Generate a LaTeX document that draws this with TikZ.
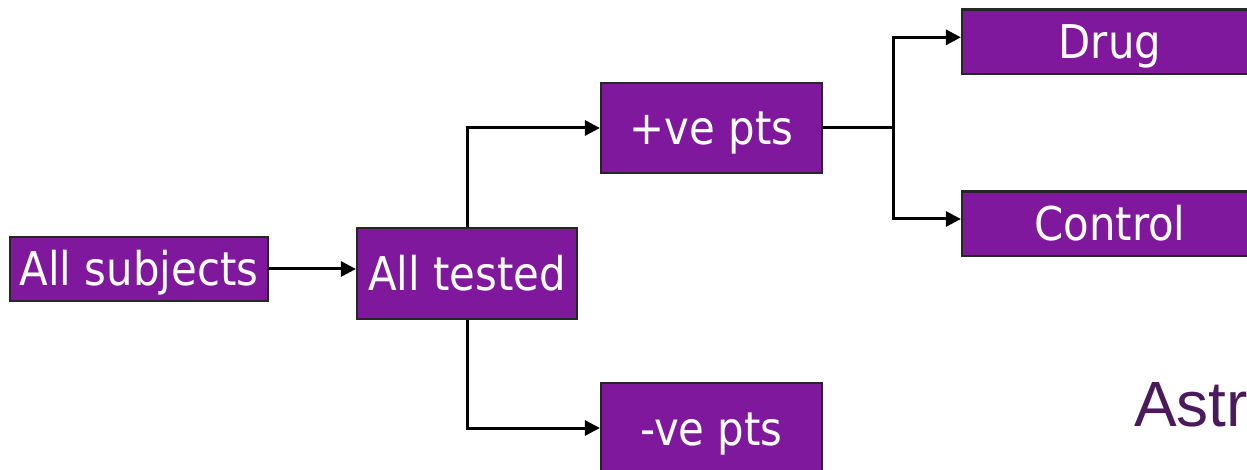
\documentclass[tikz,border=0pt]{standalone}
\usepackage{fontspec}
\setmainfont{DejaVu Sans Condensed}
\newfontfamily\logofont{Liberation Sans}
\usetikzlibrary{arrows.meta}
\definecolor{boxpurple}{RGB}{128,24,158}
\definecolor{logopurple}{RGB}{74,26,92}
\tikzset{
  x=1pt, y=1pt,
  pbox/.style={draw=black!85, line width=2.2pt, fill=boxpurple, text=white,
    font=\fontsize{46.5}{50}\selectfont, inner sep=0pt, anchor=center,
    text height=34pt, text depth=0pt},
  link/.style={draw=black, line width=3pt},
  arr/.style={link, -{Triangle[length=15pt,width=15pt]}}
}
\begin{document}
\begin{tikzpicture}
\useasboundingbox (0,0) rectangle (1247,469);
\node[pbox, minimum width=258, minimum height=64] (subj) at (139,200) {All subjects};
\node[pbox, minimum width=220, minimum height=91] (tested) at (467,195.5) {All tested};
\node[pbox, minimum width=221, minimum height=90] (pos) at (711.5,341) {+ve pts};
\node[pbox, minimum width=221, minimum height=90] (neg) at (711.5,41) {-ve pts};
\node[pbox, minimum width=296, minimum height=64.5] (drug) at (1110,427.3) {Drug};
\node[pbox, minimum width=296, minimum height=64.5] (control) at (1110,245.2) {Control};
\coordinate (br) at (893,341);
\node[text=logopurple, font=\logofont\fontsize{64}{66}\selectfont, anchor=base west, inner sep=0pt] (logo) at (1134,42.3) {Astr};
\draw[arr] (subj.east) -- (tested.west |- subj.east);
\draw[arr] (tested.north) |- (pos.west);
\draw[arr] (tested.south) |- (neg.west);
\draw[link] (pos.east) -- (br);
\draw[arr] (br) |- ([yshift=4.4pt]drug.west);
\draw[arr] (br) |- ([yshift=4.8pt]control.west);
\end{tikzpicture}
\end{document}
